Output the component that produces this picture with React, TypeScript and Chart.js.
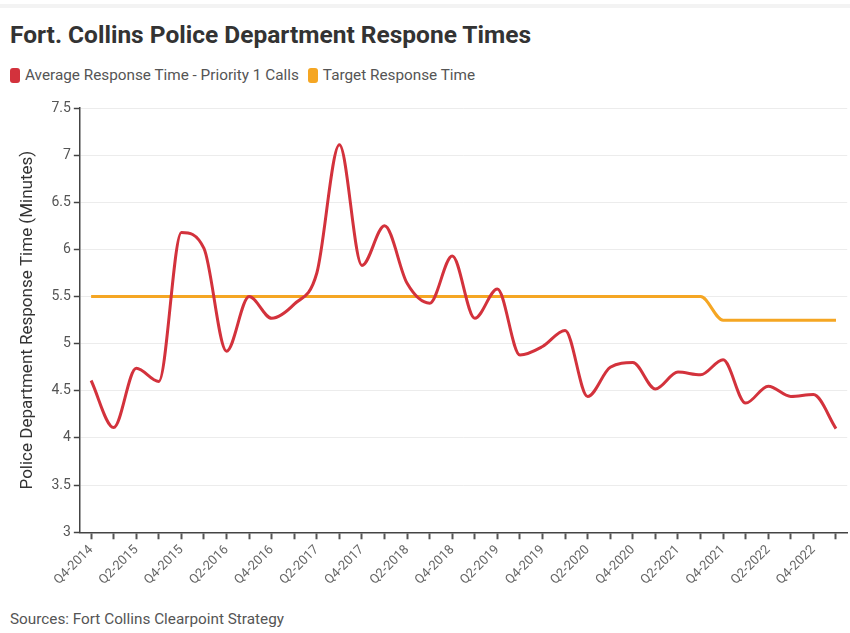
import React, { useEffect, useRef } from "react";
import { Chart, registerables } from "chart.js";

Chart.register(...registerables);

const quarters: string[] = [
  "Q4-2014", "Q1-2015", "Q2-2015", "Q3-2015", "Q4-2015", "Q1-2016", "Q2-2016", "Q3-2016",
  "Q4-2016", "Q1-2017", "Q2-2017", "Q3-2017", "Q4-2017", "Q1-2018", "Q2-2018", "Q3-2018",
  "Q4-2018", "Q1-2019", "Q2-2019", "Q3-2019", "Q4-2019", "Q1-2020", "Q2-2020", "Q3-2020",
  "Q4-2020", "Q1-2021", "Q2-2021", "Q3-2021", "Q4-2021", "Q1-2022", "Q2-2022", "Q3-2022",
  "Q4-2022", "Q1-2023",
];

const averageResponse: number[] = [
  4.61, 4.11, 4.74, 4.6, 6.18, 6.01, 4.92, 5.5,
  5.27, 5.42, 5.75, 7.11, 5.83, 6.25, 5.64, 5.43,
  5.93, 5.27, 5.58, 4.88, 4.97, 5.14, 4.44, 4.75,
  4.8, 4.52, 4.7, 4.67, 4.83, 4.37, 4.55, 4.44,
  4.46, 4.1,
];

const targetResponse: number[] = [
  5.5, 5.5, 5.5, 5.5, 5.5, 5.5, 5.5, 5.5,
  5.5, 5.5, 5.5, 5.5, 5.5, 5.5, 5.5, 5.5,
  5.5, 5.5, 5.5, 5.5, 5.5, 5.5, 5.5, 5.5,
  5.5, 5.5, 5.5, 5.5, 5.25, 5.25, 5.25, 5.25,
  5.25, 5.25,
];

const seriesNames: string[] = ["Average Response Time - Priority 1 Calls", "Target Response Time"];
const seriesColors: string[] = ["#d3323c", "#f5a623"];

export default function App() {
  const canvasRef = useRef<HTMLCanvasElement | null>(null);

  useEffect(() => {
    document.body.style.margin = "0";
    const ctx = canvasRef.current;
    if (!ctx) return;
    const chart = new Chart(ctx, {
      type: "line",
      data: {
        labels: quarters,
        datasets: [
          {
            label: seriesNames[0],
            data: averageResponse,
            borderColor: seriesColors[0],
            backgroundColor: seriesColors[0],
            borderWidth: 3,
            pointRadius: 0,
            cubicInterpolationMode: "monotone",
          },
          {
            label: seriesNames[1],
            data: targetResponse,
            borderColor: seriesColors[1],
            backgroundColor: seriesColors[1],
            borderWidth: 3,
            pointRadius: 0,
            cubicInterpolationMode: "monotone",
          },
        ],
      },
      options: {
        responsive: false,
        animation: false,
        maintainAspectRatio: false,
        layout: { padding: { top: 13, right: 0, left: 18, bottom: 0 } },
        plugins: {
          legend: { display: false },
          title: { display: false },
          tooltip: { enabled: false },
        },
        scales: {
          x: {
            offset: true,
            grid: {
              offset: false,
              drawOnChartArea: false,
              drawTicks: true,
              tickLength: 7,
              tickColor: "#555",
              tickWidth: 2,
            },
            border: { color: "#444", width: 1.5 },
            ticks: {
              autoSkip: false,
              maxRotation: 45,
              minRotation: 45,
              padding: 3,
              color: "#666",
              font: { family: "Roboto", size: 13 },
              callback: (_v: any, i: number) => (i % 2 === 0 ? quarters[i] : ""),
            },
          },
          y: {
            min: 3,
            max: 7.5,
            ticks: {
              stepSize: 0.5,
              color: "#555",
              padding: 3,
              font: { family: "Roboto", size: 14 },
              callback: (v: any) => String(Number(v)),
            },
            grid: {
              color: "#ececec",
              tickColor: "#444",
              tickLength: 6,
              tickWidth: 1.5,
            },
            border: { color: "#444", width: 1.5 },
            title: {
              display: true,
              text: "Police Department Response Time (Minutes)",
              color: "#333",
              font: { family: "Roboto", size: 17 },
              padding: { top: 0, bottom: 10 },
            },
          },
        },
      },
    });
    return () => chart.destroy();
  }, []);

  return (
    <div
      style={{
        position: "fixed",
        left: 0,
        top: 0,
        width: 850,
        height: 633,
        background: "#fff",
        fontFamily: "Roboto, sans-serif",
        overflow: "hidden",
      }}
    >
      <div style={{ position: "absolute", left: 0, top: 4, width: 850, height: 4, background: "#f3f3f3" }} />
      <div
        style={{
          position: "absolute",
          left: 10,
          top: 20,
          fontSize: 24.5,
          fontWeight: 700,
          color: "#333",
          whiteSpace: "nowrap",
        }}
      >
        Fort. Collins Police Department Respone Times
      </div>
      <div
        style={{
          position: "absolute",
          left: 10,
          top: 66,
          display: "flex",
          alignItems: "center",
          fontSize: 15.3,
          color: "#555",
          whiteSpace: "nowrap",
        }}
      >
        {seriesNames.map((n, i) => (
          <span key={n} style={{ display: "flex", alignItems: "center", marginRight: 9 }}>
            <span
              style={{
                display: "inline-block",
                width: 10,
                height: 15,
                borderRadius: 3,
                background: seriesColors[i],
                marginRight: 5,
              }}
            />
            {n}
          </span>
        ))}
      </div>
      <canvas
        ref={canvasRef}
        width={850}
        height={496}
        style={{ position: "absolute", left: 0, top: 95, width: 850, height: 496 }}
      />
      <div
        style={{
          position: "absolute",
          left: 10,
          top: 610,
          fontSize: 15.3,
          color: "#555",
          whiteSpace: "nowrap",
        }}
      >
        Sources: Fort Collins Clearpoint Strategy
      </div>
    </div>
  );
}
